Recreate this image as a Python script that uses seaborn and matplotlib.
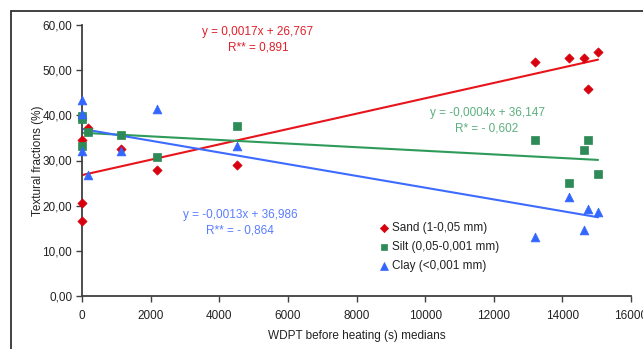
import numpy as np
import pandas as pd
import matplotlib
matplotlib.use("Agg")
import matplotlib.pyplot as plt
from matplotlib.ticker import FuncFormatter
from matplotlib.lines import Line2D
import seaborn as sns

# ---- data ----
wdpt = [0, 0, 0, 170, 1140, 2190, 4530, 13190, 14180, 14640, 14740, 15040]
sand = [16.7, 20.7, 34.5, 37.1, 32.5, 28.0, 29.0, 51.9, 52.8, 52.8, 45.8, 54.1]
silt = [39.8, 39.1, 33.1, 36.2, 35.6, 30.7, 37.7, 34.5, 25.0, 32.3, 34.5, 27.0]
clay = [43.5, 40.2, 32.1, 26.8, 32.1, 41.3, 33.1, 13.1, 21.9, 14.6, 19.2, 18.5]

series_names = ["Sand (1-0,05 mm)", "Silt (0,05-0,001 mm)", "Clay (<0,001 mm)"]
slopes = [0.0017, -0.0004, -0.0013]
intercepts = [26.767, 36.147, 36.986]
eq_texts = ["y = 0,0017x + 26,767\nR** = 0,891",
            "y = -0,0004x + 36,147\nR* = - 0,602",
            "y = -0,0013x + 36,986\nR** = - 0,864"]

x_ticks = [0, 2000, 4000, 6000, 8000, 10000, 12000, 14000, 16000]
y_ticks = [0, 10, 20, 30, 40, 50, 60]

# ---- styling ----
marker_colors = ["#D8000C", "#2E8B57", "#3366FF"]
line_colors = ["#E8141C", "#2E9B5A", "#3D6BFF"]
text_colors = ["#E0202A", "#5DAF7E", "#5A7DFF"]
markers = ["D", "s", "^"]
sizes = [22, 26, 40]

sns.set_theme(style="white")
plt.rcParams["font.family"] = ["Liberation Sans", "DejaVu Sans"]
plt.rcParams["font.size"] = 8.5

W, H = 643, 349
fig = plt.figure(figsize=(W / 100, H / 100), dpi=100)
ax = fig.add_axes([82 / W, 1 - 296 / H, (631 - 82) / W, (296 - 25) / H])

df = pd.DataFrame({
    "x": wdpt * 3,
    "y": sand + silt + clay,
    "fraction": [series_names[0]] * len(wdpt) + [series_names[1]] * len(wdpt) + [series_names[2]] * len(wdpt),
})

xmax = max(wdpt)
xs = np.array([0, xmax])
for i, name in enumerate(series_names):
    ax.plot(xs, slopes[i] * xs + intercepts[i], color=line_colors[i], lw=1.5, zorder=2)

for i, name in enumerate(series_names):
    sub = df[df["fraction"] == name]
    sns.scatterplot(data=sub, x="x", y="y", marker=markers[i], color=marker_colors[i],
                    s=sizes[i], edgecolor=marker_colors[i], linewidth=0.5, ax=ax,
                    label=name, zorder=3, clip_on=False)

ax.set_xlim(0, 16000)
ax.set_ylim(0, 60)
ax.set_xticks(x_ticks)
ax.set_yticks(y_ticks)
ax.yaxis.set_major_formatter(FuncFormatter(lambda v, p: f"{v:.2f}".replace(".", ",")))
ax.xaxis.set_major_formatter(FuncFormatter(lambda v, p: f"{int(v)}"))

for s in ["top", "right"]:
    ax.spines[s].set_visible(False)
for s in ["left", "bottom"]:
    ax.spines[s].set_color("#404040")
    ax.spines[s].set_linewidth(1.3)
ax.tick_params(axis="both", which="both", direction="out", length=4, width=1.0,
               color="#404040", labelsize=8.5, labelcolor="#222222", pad=3,
               left=True, bottom=True)
ax.tick_params(axis="x", pad=6)

ax.set_xlabel("WDPT before heating (s) medians", fontsize=8.5, color="#222222", labelpad=6)
ax.set_ylabel("Textural fractions (%)", fontsize=8.5, color="#222222", labelpad=-1)

# trendline equations
eq_pos = [(258, 40), (487, 121), (240, 223)]
for i, (px, py) in enumerate(eq_pos):
    fig.text(px / W, 1 - py / H, eq_texts[i], color=text_colors[i], fontsize=8.5,
             ha="center", va="center", linespacing=1.35)

# legend
handles, labels = ax.get_legend_handles_labels()
if ax.legend_:
    ax.legend_.remove()
fig.legend(handles, labels, loc="upper left", bbox_to_anchor=(379 / W, 1 - 222 / H),
           frameon=False, fontsize=8.5, handlelength=0.8, handletextpad=0.3,
           labelspacing=0.6, borderpad=0, borderaxespad=0, markerscale=0.9,
           labelcolor="#222222")

# outer frame (partially visible)
fig.add_artist(Line2D([11 / W, 11 / W], [0, 1 - 11 / H], color="#333333", lw=1.3,
                      transform=fig.transFigure))
fig.add_artist(Line2D([11 / W, 1], [1 - 11 / H, 1 - 11 / H], color="#333333", lw=1.3,
                      transform=fig.transFigure))

fig.savefig("out.png", dpi=100)
